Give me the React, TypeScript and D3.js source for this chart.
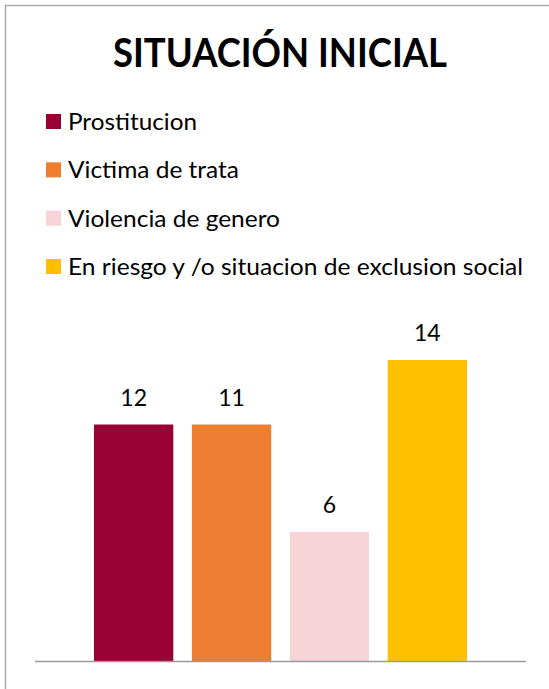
import React from "react";
import * as d3 from "d3";

const title = "SITUACIÓN INICIAL";
const seriesNames = [
  "Prostitucion",
  "Victima de trata",
  "Violencia de genero",
  "En riesgo y /o situacion de exclusion social",
];
const barValues = [11, 11, 6, 14];
const dataLabels = ["12", "11", "6", "14"];
const colors = ["#990033", "#ED7D31", "#F7D4D7", "#FFC000"];
const legendTextWidths = [129, 171, 212, 455];

const W = 549;
const H = 689;
const FONT = "Lato, 'Open Sans', sans-serif";

export default function App() {
  const x = d3
    .scaleBand<string>()
    .domain(seriesNames)
    .range([94, 467])
    .paddingInner(0.19)
    .paddingOuter(0);
  const y = d3.scaleLinear().domain([0, 16]).range([661, 317]);
  const legendY = d3
    .scalePoint<string>()
    .domain(seriesNames)
    .range([114, 259]);

  return (
    <svg
      width={W}
      height={H}
      style={{ position: "absolute", left: 0, top: 0, background: "#fff" }}
      fontFamily={FONT}
    >
      <rect x={0} y={0} width={W} height={H} fill="#fff" />
      <path d={`M5.5,${H + 2} V5.5 H${W + 2}`} fill="none" stroke="#ababab" strokeWidth={1.5} />
      <text
        x={280}
        y={67}
        textAnchor="middle"
        fontSize={40}
        fontWeight={700}
        fill="#000"
        textLength={334}
        lengthAdjust="spacingAndGlyphs"
      >
        {title}
      </text>
      {seriesNames.map((s, i) => (
        <g key={s}>
          <rect x={46} y={legendY(s)!} width={15} height={15} fill={colors[i]} />
          <text
            x={68}
            y={legendY(s)! + 16}
            fontSize={22.5}
            fill="#000"
            textLength={legendTextWidths[i]}
            lengthAdjust="spacingAndGlyphs"
          >
            {s}
          </text>
        </g>
      ))}
      {seriesNames.map((s, i) => (
        <g key={"b" + s}>
          <rect
            x={x(s)!}
            y={y(barValues[i])}
            width={x.bandwidth()}
            height={y(0) - y(barValues[i])}
            fill={colors[i]}
          />
          <text
            x={x(s)! + x.bandwidth() / 2}
            y={y(barValues[i]) - 19}
            textAnchor="middle"
            fontSize={23}
            fill="#000"
          >
            {dataLabels[i]}
          </text>
        </g>
      ))}
      <line x1={35} x2={526} y1={y(0) + 0.5} y2={y(0) + 0.5} stroke="#9a9a9a" strokeWidth={1.5} />
    </svg>
  );
}
